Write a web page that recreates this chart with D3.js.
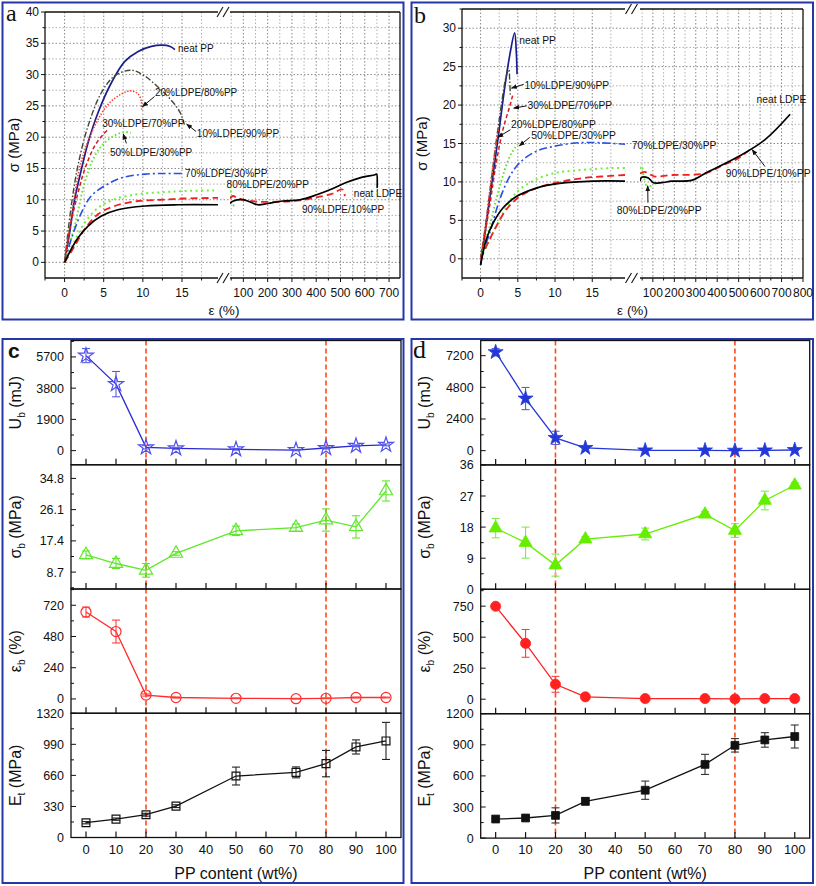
<!DOCTYPE html>
<html>
<head>
<meta charset="utf-8">
<script src="https://cdn.jsdelivr.net/npm/d3@7"></script>
<style>
body { margin: 0; background: #fff; }
svg text { font-family: Arial, "Liberation Sans", sans-serif; fill: #111; }
</style>
</head>
<body>
<svg id="fig" width="816" height="886"></svg>
<script>
// ---- data ----
// panel a : stress-strain, [strain %, stress MPa]
var a_neatPP   = [[0,0],[0.64,4.7],[1.28,10],[2.14,14.8],[3,19.1],[4.27,23.9],[5.98,28.7],[7.7,32.1],[9.4,33.7],[11.1,34.5],[12.4,34.7],[13.5,34.5],[14.1,34.0]];
var a_10_90    = [[0,0],[0.85,9],[1.7,15.4],[3,21.8],[4.7,27.1],[6.4,29.8],[8.5,30.7],[10.2,29.8],[12.2,27.7],[13.9,25.5],[14.9,23.6],[15.3,22.0]];
var a_20_80    = [[0,0],[1.07,9],[2.1,16],[3.85,21.8],[5.6,25.3],[7.26,26.9],[8.5,27.4],[9.4,26.9],[9.8,25.8],[9.85,24.4]];
var a_30_70    = [[0,0],[0.85,6.5],[1.7,11],[2.56,14.8],[3.85,18.6],[4.9,20.4],[5.55,21.2]];
var a_50_30    = [[0,0],[1.28,5.8],[2.56,12.7],[3.85,17],[5.1,19.1],[6.6,20.4],[7.7,20.8],[8.5,20.7]];
var a_70_30    = [[0,0],[0.85,3.7],[2.14,7.9],[3.4,10.6],[5.1,12.2],[7.26,13.5],[10.3,14.1],[12.8,14.2],[15,14.2]];
var a_80_20    = [[0,0],[1.28,3.4],[2.56,6.3],[4.27,8.7],[6.4,10.1],[9.4,10.9],[12.4,11.2],[15.4,11.4],[19.6,11.5],[45,11.4],[48,11.3],[52,9.0],[70,9.4]];
var a_90_10    = [[0,0],[1.28,2.6],[2.56,5.3],[4.27,7.7],[6.4,9],[9.4,9.8],[12.4,10],[15.4,10.2],[19.6,10.3],[45,10.2],[57,10.6],[75,10.3],[100,10.0],[160,9.7],[263,9.7],[333,9.9],[402,10.4],[469,11.0],[498,11.6],[510,11.6],[518,10.6]];
var a_neatLDPE = [[0,0],[0.85,2.1],[1.7,3.9],[3,5.8],[4.7,7.4],[6.8,8.4],[10.3,9],[14.5,9.2],[19.6,9.2],[45,9.4],[59,9.8],[100,10.0],[130,9.6],[160,9.2],[200,9.4],[263,9.8],[333,10.0],[402,10.8],[469,11.8],[526,12.8],[580,13.5],[642,14.0],[649,14.1],[651,11.9]];

// panel b
var b_neatPP   = [[0,-0.8],[0.54,2.9],[1.2,7.7],[1.9,12.5],[2.55,17.2],[3.2,22],[3.9,26.4],[4.57,29.4],[4.8,26.8],[4.9,24]];
var b_10_90    = [[0,0],[0.76,5.1],[1.66,12],[2.56,18.5],[3.45,23.8],[3.8,24.6],[3.9,23.3],[4.0,21.1]];
var b_20_80    = [[0,0],[0.54,3.3],[1.2,8.6],[1.9,13.8],[2.3,16.4],[2.45,17]];
var b_30_70    = [[0,0],[1.2,6.8],[2.1,12.5],[3,16.8],[3.9,19.8],[4.35,21.4]];
var b_50_30    = [[0,0],[1.2,4.2],[2.56,9.4],[3.9,13.3],[4.6,14.4],[5.0,14.9]];
var b_70_30    = [[0,0],[1.2,3.3],[2.56,7.7],[3.9,10.7],[5.25,12.5],[7.5,14],[10.2,14.7],[13.3,15.1],[16,15.1],[19.4,14.9]];
var b_80_20    = [[0,0],[1.66,3.4],[3,5.9],[4.35,8.1],[5.25,9],[7,10.1],[9.7,11.1],[12.9,11.5],[17.4,11.8],[19.4,11.8],[40,11.7],[48,12.1],[58,10.6],[75,9.4],[100,9.6],[130,10.1]];
var b_90_10    = [[0,0],[1.2,2.5],[2.1,4.2],[3.45,6.4],[5.25,8.1],[7.5,9.2],[10.2,9.9],[13.8,10.5],[19.4,10.9],[40,11.1],[63,11.3],[85,11.0],[110,10.7],[188,10.9],[343,11.1],[420,12.1],[499,13.1],[561,14.4]];
var b_neatLDPE = [[0,-0.8],[0.76,2.5],[1.66,4.6],[3,6.6],[4.8,8.1],[7.5,9.2],[10.6,9.8],[15.1,10.1],[19.4,10.1],[40,10.1],[48,10.6],[79,10.5],[102,9.9],[141,9.9],[188,10.1],[281,10.2],[343,11.1],[499,13.3],[623,15.5],[740,18.8]];

var seriesNames = ['neat PP','10%LDPE/90%PP','20%LDPE/80%PP','30%LDPE/70%PP','50%LDPE/30%PP','70%LDPE/30%PP','80%LDPE/20%PP','90%LDPE/10%PP','neat LDPE'];
var aTicks1 = [0,5,10,15], aTicks2 = [100,200,300,400,500,600,700];
var bTicks1 = [0,5,10,15], bTicks2 = [100,200,300,400,500,600,700,800];
var aYTicks = [0,5,10,15,20,25,30,35,40], bYTicks = [0,5,10,15,20,25,30];

// panels c, d : properties vs PP content
var ppContent = [0,10,20,30,50,70,80,90,100];
var xTicksPP  = [0,10,20,30,40,50,60,70,80,90,100];
var c_Ub = [5780,4045,200,140,80,30,160,290,350],  c_UbErr = [430,770,100,60,50,40,60,60,60];
var c_sb = [13.5,11.1,9.2,13.9,20.2,21.1,23.2,21.3,31.3], c_sbErr = [1.1,1.4,1.9,0.5,1.3,1.0,3.1,3.1,2.8];
var c_eb = [668,518,30,11,5,2,5,11,11],            c_ebErr = [38,88,8,4,3,3,3,3,3];
var c_Et = [157,195,242,333,653,692,785,962,1026], c_EtErr = [12,12,15,15,95,58,140,75,197];
var d_Ub = [7464,3950,970,206,20,20,0,20,50],      d_UbErr = [280,840,500,60,20,20,20,20,20];
var d_sb = [17.7,13.5,7.0,14.5,16.0,21.7,17.0,25.7,30.1], d_sbErr = [2.8,4.5,3.2,0.8,1.7,0.8,2.0,2.7,0.8];
var d_eb = [749,450,120,19,5,5,2,5,5],             d_ebErr = [5,112,64,5,3,3,3,3,3];
var d_Et = [184,194,219,355,462,711,895,947,980],  d_EtErr = [10,20,73,35,88,97,65,70,111];
var c_ticks = [[0,1900,3800,5700],[8.7,17.4,26.1,34.8],[0,240,480,720],[0,330,660,990,1320]];
var d_ticks = [[0,2400,4800,7200],[0,9,18,27,36],[0,250,500,750],[0,300,600,900,1200]];
var dividers = [20,80];

var svg = d3.select('#fig');
var defs = svg.append('defs');
defs.append('marker').attr('id','arr')
    .attr('viewBox','0 0 10 10').attr('refX',9).attr('refY',5)
    .attr('markerWidth',6).attr('markerHeight',6).attr('orient','auto')
  .append('path').attr('d','M0,1L10,5L0,9z').attr('fill','#111');

// blue panel frames
[[2.5,2.5,401,317],[411.5,2.5,401.5,317],[2.5,339,401,544],[411.5,339,401.5,544]].forEach(function(r){
    svg.append('rect').attr('x',r[0]).attr('y',r[1]).attr('width',r[2]).attr('height',r[3])
        .attr('fill','none').attr('stroke','#2536a6').attr('stroke-width',2);
});

// line styles for the 9 stress-strain curves
var styles = [
    {c:'#1b1f8a', w:1.7, dash:null},
    {c:'#3f4a36', w:1.4, dash:'6,2,1.5,2'},
    {c:'#ff3b30', w:1.6, dash:'1.4,1.6'},
    {c:'#cf1c1c', w:1.5, dash:'4,2.5'},
    {c:'#5ce626', w:1.9, dash:'1.6,2.4'},
    {c:'#2a4fe0', w:1.6, dash:'8,3,2,3'},
    {c:'#6ef03a', w:2.0, dash:'2,3.5'},
    {c:'#ee2020', w:1.8, dash:'7,4'},
    {c:'#000000', w:1.7, dash:null}
];

function strainPanel(o) {
    var g = svg.append('g');
    var x1 = d3.scaleLinear().domain(o.d1).range(o.r1);
    var x2 = d3.scaleLinear().domain(o.d2).range(o.r2);
    var y = d3.scaleLinear().domain(o.yd).range([o.bottom, o.top]);
    var xs = function(e){ return e < 30 ? x1(e) : x2(e); };
    var L = o.r1[0], R = o.r2[1];

    // dotted grid
    for (var v = 0; v < o.yd[1] - 0.1; v += 2.5) {
        g.append('line').attr('x1',L).attr('x2',R).attr('y1',y(v)).attr('y2',y(v))
            .attr('stroke', v % 5 === 0 ? '#7a7a7a' : '#a8a8a8').attr('stroke-width',0.9)
            .attr('stroke-dasharray','1.5,2');
    }
    for (var e = 0; e < o.d1[1] - 1; e += 2.5) {
        g.append('line').attr('x1',x1(e)).attr('x2',x1(e)).attr('y1',o.top).attr('y2',o.bottom)
            .attr('stroke', e % 5 === 0 ? '#7a7a7a' : '#a8a8a8').attr('stroke-width',0.9)
            .attr('stroke-dasharray','1.5,2');
    }
    for (var e2 = 50; e2 < o.d2[1] - 5; e2 += 50) {
        g.append('line').attr('x1',x2(e2)).attr('x2',x2(e2)).attr('y1',o.top).attr('y2',o.bottom)
            .attr('stroke', e2 % 100 === 0 ? '#7a7a7a' : '#a8a8a8').attr('stroke-width',0.9)
            .attr('stroke-dasharray','1.5,2');
    }

    // clip for the two strain segments
    var id = o.id;
    defs.append('clipPath').attr('id',id+'c1').append('rect')
        .attr('x',o.r1[0]).attr('y',o.top).attr('width',o.r1[1]-o.r1[0]).attr('height',o.bottom-o.top);
    defs.append('clipPath').attr('id',id+'c2').append('rect')
        .attr('x',o.r2[0]).attr('y',o.top).attr('width',o.r2[1]-o.r2[0]).attr('height',o.bottom-o.top);

    var line = d3.line().x(function(d){ return xs(d[0]); }).y(function(d){ return y(d[1]); })
        .curve(d3.curveCatmullRom.alpha(0.5));

    o.curves.forEach(function(pts, i) {
        var st = styles[i];
        var s1 = pts.filter(function(p){ return p[0] < 30; });
        var s2 = pts.filter(function(p){ return p[0] >= 30; });
        [[s1,'c1'],[s2,'c2']].forEach(function(s) {
            if (s[0].length < 2) return;
            g.append('path').attr('d', line(s[0]))
                .attr('clip-path','url(#'+id+s[1]+')')
                .attr('fill','none').attr('stroke',st.c).attr('stroke-width',st.w)
                .attr('stroke-dasharray',st.dash);
        });
    });

    // frame with axis break
    var bx = (o.r1[1] + o.r2[0]) / 2;
    var fr = g.append('g').attr('stroke','#111').attr('stroke-width',1.3);
    fr.append('line').attr('x1',L).attr('x2',L).attr('y1',o.top).attr('y2',o.bottom);
    fr.append('line').attr('x1',R).attr('x2',R).attr('y1',o.top).attr('y2',o.bottom);
    [o.top, o.bottom].forEach(function(yy) {
        fr.append('line').attr('x1',L).attr('x2',o.r1[1]).attr('y1',yy).attr('y2',yy);
        fr.append('line').attr('x1',o.r2[0]).attr('x2',R).attr('y1',yy).attr('y2',yy);
        fr.append('line').attr('x1',bx-7).attr('x2',bx-1).attr('y1',yy+5).attr('y2',yy-5).attr('stroke-width',1.1);
        fr.append('line').attr('x1',bx-1).attr('x2',bx+5).attr('y1',yy+5).attr('y2',yy-5).attr('stroke-width',1.1);
    });

    // ticks
    for (var t = 0; t <= o.yd[1] + 0.01; t += 2.5) {
        var maj = t % 5 === 0;
        fr.append('line').attr('x1',L).attr('x2',L-(maj?4:2.5)).attr('y1',y(t)).attr('y2',y(t)).attr('stroke-width',1);
    }
    for (var t1 = -2.5; t1 < o.d1[1]; t1 += 2.5) {
        var mj = t1 % 5 === 0;
        fr.append('line').attr('x1',x1(t1)).attr('x2',x1(t1)).attr('y1',o.bottom).attr('y2',o.bottom+(mj?4:2.5)).attr('stroke-width',1);
    }
    for (var t2 = 50; t2 <= o.d2[1]; t2 += 50) {
        var mj2 = t2 % 100 === 0;
        fr.append('line').attr('x1',x2(t2)).attr('x2',x2(t2)).attr('y1',o.bottom).attr('y2',o.bottom+(mj2?4:2.5)).attr('stroke-width',1);
    }

    // tick labels
    o.yTicks.forEach(function(t){
        g.append('text').attr('x',L-6).attr('y',y(t)+4).attr('text-anchor','end')
            .attr('font-size',12).text(t);
    });
    o.t1.forEach(function(t){
        g.append('text').attr('x',x1(t)).attr('y',o.bottom+18.5).attr('text-anchor','middle')
            .attr('font-size',12).text(t);
    });
    o.t2.forEach(function(t){
        g.append('text').attr('x',x2(t)).attr('y',o.bottom+18.5).attr('text-anchor','middle')
            .attr('font-size',12).text(t);
    });
    g.append('text').attr('x',bx).attr('y',o.bottom+37).attr('text-anchor','middle')
        .attr('font-size',13.5).text('\u03b5 (%)');
    g.append('text').attr('transform','translate('+o.ytx+','+((o.top+o.bottom)/2)+') rotate(-90)')
        .attr('text-anchor','middle').attr('font-size',15).text('\u03c3 (MPa)');

    // curve labels and arrows
    o.labels.forEach(function(lb) {
        g.append('text').attr('x',xs(lb[1])).attr('y',y(lb[2])).attr('font-size',o.lfs)
            .text(seriesNames[lb[0]]);
    });
    o.arrows.forEach(function(a) {
        g.append('line').attr('x1',xs(a[0])).attr('y1',y(a[1])).attr('x2',xs(a[2])).attr('y2',y(a[3]))
            .attr('stroke','#111').attr('stroke-width',1).attr('marker-end','url(#arr)');
    });

    svg.append('text').attr('x',o.lx).attr('y',o.ly)
        .attr('font-size',24).style('font-family','"Liberation Serif", serif').text(o.letter);
}

strainPanel({
    id:'pa', letter:'a', lx:6, ly:21,
    d1:[-2.5,19.6], r1:[45,218], d2:[45,745], r2:[230,400],
    yd:[-2.5,40], top:12, bottom:278, ytx:19,
    yTicks:aYTicks, t1:aTicks1, t2:aTicks2, lfs:10,
    curves:[a_neatPP,a_10_90,a_20_80,a_30_70,a_50_30,a_70_30,a_80_20,a_90_10,a_neatLDPE],
    // [series index, strain, stress] of label baseline start
    labels:[[0,14.5,33.6],[2,11.55,26.6],[3,4.8,21.6],[1,16.9,20.0],[4,5.8,17.0],
            [5,15.4,13.6],[6,20.7,11.95],[8,555,10.45],[7,341,7.9]],
    arrows:[[11.5,26.5,9.95,24.9],[16.8,20.9,15.6,22.1],[7.9,19.0,7.5,20.5]]
});

strainPanel({
    id:'pb', letter:'b', lx:414, ly:23,
    d1:[-2.5,19.4], r1:[462,625], d2:[40,800], r2:[640,803],
    yd:[-2.5,32.5], top:9, bottom:278, ytx:427,
    yTicks:bYTicks, t1:bTicks1, t2:bTicks2, lfs:10.3,
    curves:[b_neatPP,b_10_90,b_20_80,b_30_70,b_50_30,b_70_30,b_80_20,b_90_10,b_neatLDPE],
    labels:[[0,5.2,28.0],[1,5.9,22.1],[3,6.3,19.5],[2,4.1,17.0],[4,6.8,15.55],
            [5,20.3,14.3],[6,18.3,5.8],[8,583,20.3],[7,440,10.7]],
    arrows:[[5.8,22.7,4.15,22.2],[6.2,19.9,4.45,19.6],[4.0,16.8,2.3,15.8],[6.6,15.8,5.2,14.7],
            [77,7.3,76,9.5],[623,12.0,563,14.2]]
});

// ---- panels c and d ----
var symStar = d3.symbol().type(d3.symbolStar).size(70);
var symTri  = d3.symbol().type(d3.symbolTriangle).size(75);
var symCirc = d3.symbol().type(d3.symbolCircle).size(80);
var symSq   = d3.symbol().type(d3.symbolSquare).size(62);

function propPanel(o) {
    var g = svg.append('g');
    var x = d3.scaleLinear().domain([-5,105]).range([o.left, o.right]);
    var bands = [0,1,2,3].map(function(k){ return [o.top + k*o.bh, o.top + (k+1)*o.bh]; });

    // dashed dividers
    dividers.forEach(function(v){
        g.append('line').attr('x1',x(v)).attr('x2',x(v)).attr('y1',o.top).attr('y2',o.top+4*o.bh)
            .attr('stroke','#ff4a1c').attr('stroke-width',1.6).attr('stroke-dasharray','5,3');
    });

    o.subs.forEach(function(s, k) {
        var b = bands[k];
        var y = d3.scaleLinear().domain(s.dom).range([b[1], b[0]]);
        var sg = g.append('g');
        var pts = ppContent.map(function(p,i){ return {x:p, v:s.vals[i], e:s.errs[i]}; });

        sg.append('path').datum(pts)
            .attr('d', d3.line().x(function(d){ return x(d.x); }).y(function(d){ return y(d.v); }))
            .attr('fill','none').attr('stroke',s.line).attr('stroke-width',1.3);

        // error bars
        pts.forEach(function(d){
            var y1 = y(d.v - d.e), y2 = y(d.v + d.e), cx = x(d.x);
            sg.append('line').attr('x1',cx).attr('x2',cx).attr('y1',y1).attr('y2',y2)
                .attr('stroke',s.err).attr('stroke-width',1.1);
            [y1,y2].forEach(function(yy){
                sg.append('line').attr('x1',cx-4).attr('x2',cx+4).attr('y1',yy).attr('y2',yy)
                    .attr('stroke',s.err).attr('stroke-width',1.1);
            });
        });

        sg.selectAll('path.m').data(pts).enter().append('path').attr('class','m')
            .attr('d', s.sym)
            .attr('transform', function(d){ return 'translate('+x(d.x)+','+y(d.v)+')'; })
            .attr('fill', o.filled ? s.mark : 'none')
            .attr('stroke', s.mark).attr('stroke-width', o.filled ? 0.8 : 1.2);

        // frame, ticks
        var fr = sg.append('g').attr('stroke','#111');
        fr.append('rect').attr('x',o.left).attr('y',b[0]).attr('width',o.right-o.left).attr('height',b[1]-b[0])
            .attr('fill','none').attr('stroke-width',1.3);
        var step = s.ticks[1] - s.ticks[0];
        for (var t = s.ticks[0] - step; t <= s.dom[1] + 1e-6; t += step/2) {
            if (t < s.dom[0] - 1e-6) continue;
            var maj = Math.abs(((t - s.ticks[0]) / step) - Math.round((t - s.ticks[0]) / step)) < 1e-6;
            fr.append('line').attr('x1',o.left).attr('x2',o.left+(maj?5:3)).attr('y1',y(t)).attr('y2',y(t)).attr('stroke-width',1);
        }
        xTicksPP.forEach(function(t){
            fr.append('line').attr('x1',x(t)).attr('x2',x(t)).attr('y1',b[1]).attr('y2',b[1]-6).attr('stroke-width',1.2);
        });
        s.ticks.forEach(function(t){
            sg.append('text').attr('x',o.left-7).attr('y',y(t)+4.5).attr('text-anchor','end')
                .attr('font-size',12.5).text(t);
        });

        // y title with subscript
        var tt = sg.append('text').attr('transform','translate('+o.ytx+','+((b[0]+b[1])/2)+') rotate(-90)')
            .attr('text-anchor','middle').attr('font-size',s.tfs);
        tt.append('tspan').text(s.sym0);
        tt.append('tspan').attr('font-size',10).attr('dy',4).text(s.sub);
        tt.append('tspan').attr('dy',-4).text(' ' + s.unit);
    });

    xTicksPP.forEach(function(t){
        g.append('text').attr('x',x(t)).attr('y',o.top+4*o.bh+16).attr('text-anchor','middle')
            .attr('font-size',13).text(t);
    });
    g.append('text').attr('x',(o.left+o.right)/2).attr('y',o.top+4*o.bh+41).attr('text-anchor','middle')
        .attr('font-size',16).text('PP content (wt%)');
}

propPanel({
    left:71, right:401, top:340.5, bh:124.25, ytx:21, filled:false,
    subs:[
        {vals:c_Ub, errs:c_UbErr, dom:[-860,6700], ticks:c_ticks[0], sym:symStar, mark:'#4f4ff0', line:'#2a2ad0', err:'#5a5ae8', sym0:'U', sub:'b', unit:'(mJ)', tfs:16},
        {vals:c_sb, errs:c_sbErr, dom:[4.0,38.6], ticks:c_ticks[1], sym:symTri, mark:'#5fe82a', line:'#5fe82a', err:'#5fe82a', sym0:'\u03c3', sub:'b', unit:'(MPa)', tfs:16},
        {vals:c_eb, errs:c_ebErr, dom:[-110,845], ticks:c_ticks[2], sym:symCirc, mark:'#ff2d2d', line:'#ff2d2d', err:'#ff3d3d', sym0:'\u03b5', sub:'b', unit:'(%)', tfs:16},
        {vals:c_Et, errs:c_EtErr, dom:[0,1320], ticks:c_ticks[3], sym:symSq, mark:'#111', line:'#111', err:'#222', sym0:'E', sub:'t', unit:'(MPa)', tfs:16}
    ]
});

propPanel({
    left:480.7, right:809.7, top:340.5, bh:124.4, ytx:430, filled:true,
    subs:[
        {vals:d_Ub, errs:d_UbErr, dom:[-1080,8350], ticks:d_ticks[0], sym:symStar, mark:'#2438d8', line:'#2438d8', err:'#5566c8', sym0:'U', sub:'b', unit:'(mJ)', tfs:16},
        {vals:d_sb, errs:d_sbErr, dom:[0,36], ticks:d_ticks[1], sym:symTri, mark:'#66ee00', line:'#66ee00', err:'#80ea50', sym0:'\u03c3', sub:'b', unit:'(MPa)', tfs:16},
        {vals:d_eb, errs:d_ebErr, dom:[-117,886], ticks:d_ticks[2], sym:symCirc, mark:'#ff2020', line:'#ff2020', err:'#ff4040', sym0:'\u03b5', sub:'b', unit:'(%)', tfs:16},
        {vals:d_Et, errs:d_EtErr, dom:[0,1200], ticks:d_ticks[3], sym:symSq, mark:'#111', line:'#111', err:'#333', sym0:'E', sub:'t', unit:'(MPa)', tfs:16}
    ]
});

svg.append('text').attr('x',8).attr('y',358).attr('font-size',21).attr('font-weight','bold').text('c');
svg.append('text').attr('x',413).attr('y',358).attr('font-size',26)
    .style('font-family','"Liberation Serif", serif').text('d');
</script>
</body>
</html>
